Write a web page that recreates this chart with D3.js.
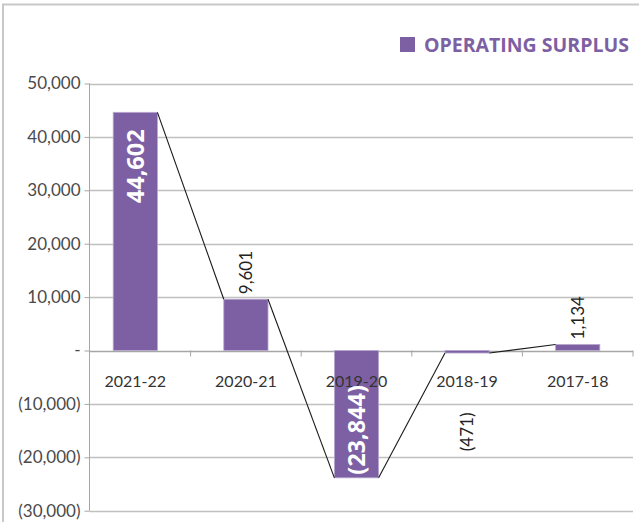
<!DOCTYPE html>
<html><head><meta charset="utf-8">
<script src="https://cdn.jsdelivr.net/npm/d3@7"></script>
<style>
html,body{margin:0;padding:0;background:#fff;}
svg{display:block;}
</style></head>
<body>
<svg id="chart" width="639" height="522"></svg>
<script>
const categories = ["2021-22","2020-21","2019-20","2018-19","2017-18"];
const values = [44602, 9601, -23844, -471, 1134];
const yTicks = [-30000,-20000,-10000,0,10000,20000,30000,40000,50000];
const seriesName = "OPERATING SURPLUS";

const purple = "#7d60a3";
const svg = d3.select("#chart");

// frame
svg.append("line").attr("x1",2).attr("x2",639).attr("y1",4.5).attr("y2",4.5)
  .attr("stroke","#c8c8c8").attr("stroke-width",2);
svg.append("line").attr("x1",3).attr("x2",3).attr("y1",4).attr("y2",522)
  .attr("stroke","#c8c8c8").attr("stroke-width",2);

const axisX = 89.5, right = 633;
const y = d3.scaleLinear().domain([-30000,50000]).range([510.7,83.5]);
const x = d3.scaleBand().domain(categories).range([80,633]).paddingInner(0.6).paddingOuter(0.3);

const fmt = v => v === 0 ? "-" : (v < 0 ? "(" + d3.format(",")(-v) + ")" : d3.format(",")(v));

// gridlines
svg.append("g").selectAll("line").data(yTicks).join("line")
  .attr("x1",axisX).attr("x2",right)
  .attr("y1",d=>Math.round(y(d))+0.5).attr("y2",d=>Math.round(y(d))+0.5)
  .attr("stroke",d=>d===0?"#a6a6a6":"#c0c0c0").attr("stroke-width",1.3);

// y axis
const yAxis = d3.axisLeft(y).tickValues(yTicks).tickFormat(fmt).tickSize(5).tickPadding(4);
const gy = svg.append("g").attr("transform",`translate(${axisX},0)`).call(yAxis);
gy.select(".domain").attr("stroke","#a6a6a6").attr("d",`M-0,${y(50000)}V${y(-30000)}`);
gy.selectAll(".tick line").attr("stroke","#a6a6a6");
gy.selectAll(".tick text").attr("font-family","Lato, sans-serif").attr("font-weight",400)
  .attr("font-size",17).attr("fill","#4a4a4a");

// category tick marks on zero line
const step = x.step();
const bandEdges = categories.map((c,i)=> x(c) + x.bandwidth()/2 + step/2);
svg.append("g").selectAll("line").data(bandEdges).join("line")
  .attr("x1",d=>d).attr("x2",d=>d).attr("y1",y(0)).attr("y2",y(0)+6)
  .attr("stroke","#a6a6a6").attr("stroke-width",1);

// bars
svg.append("g").selectAll("rect").data(values).join("rect")
  .attr("x",(d,i)=>x(categories[i]))
  .attr("width",x.bandwidth())
  .attr("y",d=>Math.min(y(d),y(0)))
  .attr("height",d=>Math.max(Math.abs(y(d)-y(0)),1.5))
  .attr("fill",purple).attr("stroke","#b9a9cf").attr("stroke-width",0.8);

// connector lines
const segs = d3.pairs(values.map((v,i)=>({v,c:categories[i]})));
svg.append("g").selectAll("line").data(segs).join("line")
  .attr("x1",d=>x(d[0].c)+x.bandwidth()).attr("y1",d=>y(d[0].v))
  .attr("x2",d=>x(d[1].c)).attr("y2",d=>y(d[1].v))
  .attr("stroke","#1a1a1a").attr("stroke-width",1.1);

// category labels
svg.append("g").selectAll("text").data(categories).join("text")
  .attr("x",d=>x(d)+x.bandwidth()/2).attr("y",387)
  .attr("text-anchor","middle")
  .attr("font-family","Lato, sans-serif").attr("font-weight",400)
  .attr("font-size",16).attr("fill","#333")
  .text(d=>d);

// value labels
const big = d => Math.abs(d) > 15000;
svg.append("g").selectAll("text").data(values).join("text")
  .attr("transform",(d,i)=>{
    const cx = x(categories[i]) + x.bandwidth()/2;
    let py;
    if (big(d)) py = d>0 ? y(d)+17 : y(d)-3;
    else if (d>0) py = y(d)-5;
    else py = y(0)+62;
    return `translate(${cx},${py}) rotate(-90)`;
  })
  .attr("dy","0.35em")
  .attr("text-anchor",(d,i)=> big(d) ? (d>0?"end":"start") : (d>0?"start":"end"))
  .attr("font-family",d=>big(d)?"'Open Sans', sans-serif":"Lato, sans-serif")
  .attr("font-weight",d=>big(d)?700:400)
  .attr("font-size",d=>big(d)?23.5:17)
  .attr("fill",d=>big(d)?"#fff":"#222")
  .text(fmt);

// legend
const lg = svg.append("g");
lg.append("rect").attr("x",400).attr("y",37).attr("width",15).attr("height",15).attr("fill",purple);
lg.append("text").attr("x",424).attr("y",52)
  .attr("font-family","'Open Sans', sans-serif").attr("font-weight",700).attr("font-size",19.5)
  .attr("fill",purple).text(seriesName);
</script>
</body></html>
